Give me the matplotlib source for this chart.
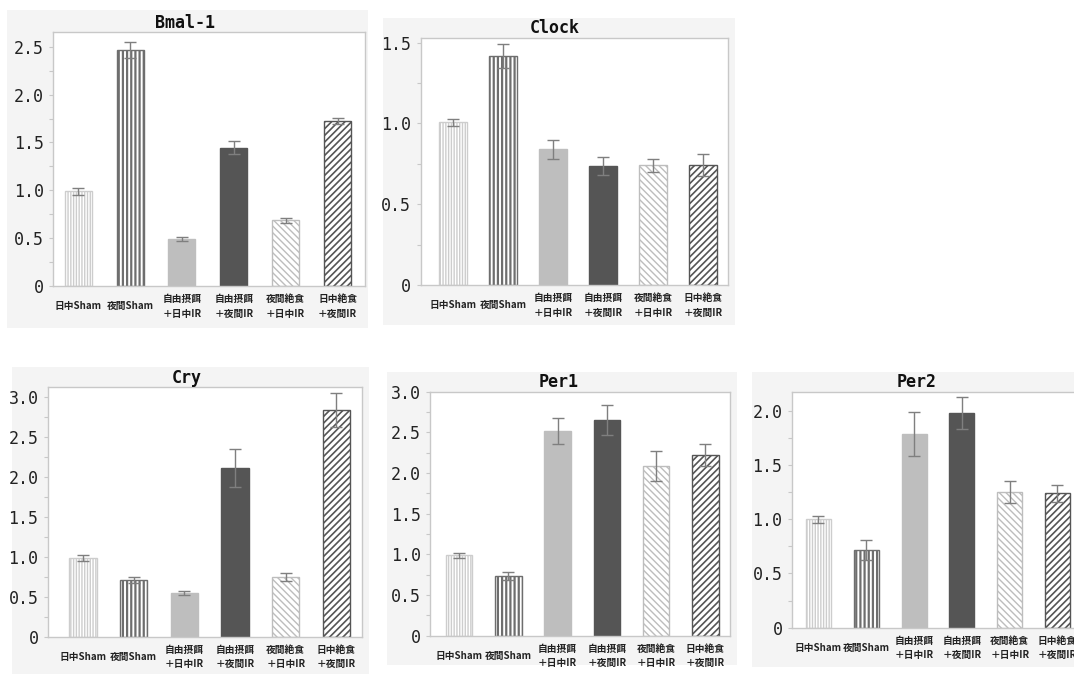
import matplotlib
matplotlib.use("Agg")
import matplotlib.pyplot as plt
from matplotlib.patches import Rectangle
from matplotlib.ticker import MultipleLocator, FuncFormatter

W, H = 1074, 674
DPI = 100

categories = ['日中Sham', '夜間Sham', '自由摂餌\n＋日中IR', '自由摂餌\n＋夜間IR',
              '夜間絶食\n＋日中IR', '日中絶食\n＋夜間IR']

titles = ['Bmal-1', 'Clock', 'Cry', 'Per1', 'Per2']

bmal1 = [0.99, 2.465, 0.49, 1.445, 0.686, 1.727]
bmal1_err = [0.035, 0.085, 0.025, 0.065, 0.025, 0.03]
clock = [1.006, 1.416, 0.84, 0.734, 0.742, 0.742]
clock_err = [0.02, 0.075, 0.06, 0.055, 0.04, 0.07]
cry = [0.983, 0.71, 0.55, 2.11, 0.74, 2.83]
cry_err = [0.035, 0.04, 0.025, 0.235, 0.05, 0.21]
per1 = [0.988, 0.738, 2.512, 2.648, 2.086, 2.221]
per1_err = [0.033, 0.05, 0.16, 0.185, 0.19, 0.13]
per2 = [0.998, 0.716, 1.785, 1.98, 1.253, 1.238]
per2_err = [0.036, 0.09, 0.2, 0.15, 0.10, 0.08]

values = [bmal1, clock, cry, per1, per2]
errors = [bmal1_err, clock_err, cry_err, per1_err, per2_err]

# styles per category
fills = ['white', 'white', '#bebebe', '#555555', 'white', 'white']
edges = ['#cdcdcd', '#6e6e6e', '#bebebe', '#555555', '#bdbdbd', '#555555']
hatches = ['||||||', '||||', None, None, '\\\\\\\\\\', '/////']
hatch_lw = [1.0, 1.6, 1.0, 1.0, 1.0, 1.2]

# layout in pixels
panels = [
    dict(bg=(7, 10, 368, 328), ax=(53.3, 31.7, 365, 286), xlim=(-0.48, 5.53), ylim=2.657, bw=0.52, tpos=(185, 23)),
    dict(bg=(383, 18, 735, 325), ax=(420.5, 38.3, 728.3, 285), xlim=(-0.66, 5.51), ylim=1.526, bw=0.56, tpos=(555, 28)),
    dict(bg=(12, 367, 369, 674), ax=(47.7, 387.3, 361.7, 636.7), xlim=(-0.70, 5.5), ylim=3.117, bw=0.54, tpos=(187, 378)),
    dict(bg=(387, 372, 737, 665), ax=(430, 391.7, 730, 635.7), xlim=(-0.59, 5.5), ylim=3.0, bw=0.54, tpos=(559, 382)),
    dict(bg=(752, 372, 1074, 667), ax=(791.7, 391.7, 1081.4, 627.7), xlim=(-0.56, 5.5), ylim=2.175, bw=0.52, tpos=(917, 382)),
]

fig = plt.figure(figsize=(W / DPI, H / DPI), dpi=DPI)
fig.patch.set_facecolor('white')

def fmt(v, pos):
    return '0' if abs(v) < 1e-9 else f'{v:.1f}'

for i, p in enumerate(panels):
    bx0, by0, bx1, by1 = p['bg']
    fig.add_artist(Rectangle((bx0 / W, 1 - by1 / H), (bx1 - bx0) / W, (by1 - by0) / H,
                             transform=fig.transFigure, facecolor='#f4f4f4',
                             edgecolor='none', zorder=-5))
    ax0, ay0, ax1, ay1 = p['ax']
    ax = fig.add_axes([ax0 / W, 1 - ay1 / H, (ax1 - ax0) / W, (ay1 - ay0) / H])
    ax.set_facecolor('white')
    xs = list(range(len(categories)))
    for j in xs:
        plt.rcParams['hatch.linewidth'] = hatch_lw[j]
        b = ax.bar(j, values[i][j], width=p['bw'], color=fills[j], edgecolor=edges[j],
                   hatch=hatches[j], linewidth=1.0, zorder=2)
        for patch in b:
            if hasattr(patch, 'set_hatch_linewidth'):
                patch.set_hatch_linewidth(hatch_lw[j])
    ax.errorbar(xs, values[i], yerr=errors[i], fmt='none', ecolor='#7f7f7f',
                elinewidth=1.0, capsize=4.6, capthick=1.0, zorder=3)
    ax.set_xlim(*p['xlim'])
    ax.set_ylim(0, p['ylim'])
    ax.yaxis.set_major_locator(MultipleLocator(0.5))
    ax.yaxis.set_minor_locator(MultipleLocator(0.25))
    ax.yaxis.set_major_formatter(FuncFormatter(fmt))
    ax.set_xticks(xs)
    ax.set_xticklabels(categories, family=['Noto Sans CJK JP', 'DejaVu Sans'],
                       fontsize=7.0, fontweight='bold', color='#222222', linespacing=1.6)
    for lab in ax.get_xticklabels():
        lab.set_verticalalignment('center')
    ax.tick_params(axis='x', length=0, pad=14.6)
    ax.tick_params(axis='y', which='both', direction='out', color='#c8c8c8',
                   length=3, width=0.8, pad=3.6, labelsize=12, labelcolor='#222222')
    for lab in ax.get_yticklabels():
        lab.set_family('DejaVu Sans Mono')
    for s in ax.spines.values():
        s.set_color('#c8c8c8')
        s.set_linewidth(1.0)
    tx, ty = p['tpos']
    fig.text(tx / W, 1 - ty / H, titles[i], ha='center', va='center',
             family='DejaVu Sans Mono', fontweight='bold', fontsize=12, color='#111111')

fig.savefig('out.png', dpi=DPI, facecolor='white')
